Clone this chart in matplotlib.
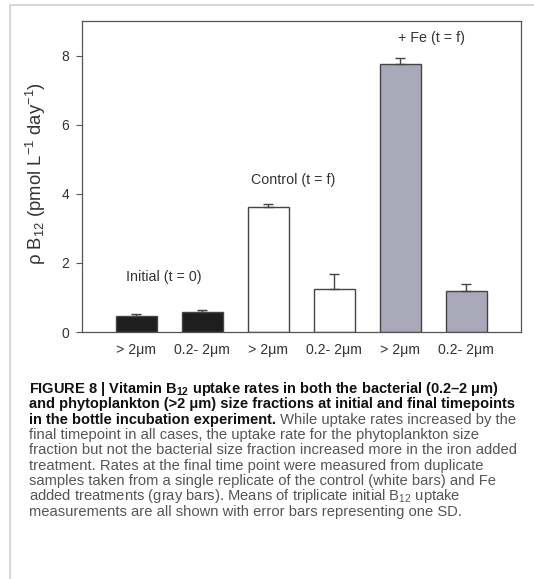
import matplotlib
matplotlib.use("Agg")
import matplotlib.pyplot as plt
from matplotlib.patches import Rectangle
import numpy as np

plt.rcParams['font.family'] = ['Liberation Sans', 'DejaVu Sans']
plt.rcParams['mathtext.fontset'] = 'custom'
plt.rcParams['mathtext.rm'] = 'Liberation Sans'
plt.rcParams['mathtext.it'] = 'Liberation Sans:italic'
plt.rcParams['mathtext.bf'] = 'Liberation Sans:bold'

# data
size_labels = ['> 2μm', '0.2- 2μm', '> 2μm', '0.2- 2μm', '> 2μm', '0.2- 2μm']
uptake = [0.47, 0.59, 3.62, 1.25, 7.75, 1.18]
uptake_sd = [0.04, 0.05, 0.07, 0.42, 0.17, 0.20]
bar_colors = ['#1e1e1e', '#1e1e1e', '#ffffff', '#ffffff', '#a9a9ba', '#a9a9ba']
groups = ['Initial (t = 0)', 'Control (t = f)', '+ Fe (t = f)']
group_pos = [(0.42, 1.59), (2.38, 4.39), (4.47, 8.5)]

fig = plt.figure(figsize=(5.34, 5.79), dpi=100)

# faint frame of the scanned page
fig.patches.append(Rectangle((10 / 534, -0.1), 1.2, 1 - 5 / 579 + 0.1,
                             transform=fig.transFigure, fill=False,
                             edgecolor='#d0d0d0', linewidth=1.2))

ax = fig.add_axes([82 / 534, 247 / 579, 439 / 534, 311 / 579])
x = np.arange(len(uptake))
# only the upper half of each error bar is visible
ax.bar(x, uptake, width=0.62, color=bar_colors, edgecolor='#444444', linewidth=1.0,
       yerr=[np.zeros(len(uptake_sd)), uptake_sd],
       error_kw=dict(ecolor='#444444', elinewidth=1.0, capsize=3.5, capthick=1.0))

for name, (gx, gy) in zip(groups, group_pos):
    ax.text(gx, gy, name, ha='center', va='center', fontsize=10.3, color='#333333')

ax.set_xlim(-0.82, 5.83)
ax.set_ylim(0, 9)
ax.set_yticks([0, 2, 4, 6, 8])
ax.set_xticks(x)
ax.set_xticklabels(size_labels)
ax.tick_params(axis='x', length=0, pad=8, labelsize=10.2, labelcolor='#333333')
ax.tick_params(axis='y', length=4, pad=5, labelsize=10, labelcolor='#333333', color='#555555')
for s in ax.spines.values():
    s.set_color('#555555')
    s.set_linewidth(0.9)
ax.set_ylabel(r'ρ B$_{12}$ (pmol L$^{-1}$ day$^{-1}$)', fontsize=13.3, color='#333333')
ax.yaxis.set_label_coords(-0.078, 0.51)

# caption
x0 = 29 / 534
line_y = [393, 408, 424, 439, 454, 470, 485, 500, 516]
bold_lines = [
    r'FIGURE 8 | Vitamin $\mathbf{B}_{\mathbf{12}}$ uptake rates in both the bacterial (0.2–2 μm)',
    'and phytoplankton (>2 μm) size fractions at initial and final timepoints',
    'in the bottle incubation experiment.',
]
plain_lines = [
    'final timepoint in all cases, the uptake rate for the phytoplankton size',
    'fraction but not the bacterial size fraction increased more in the iron added',
    'treatment. Rates at the final time point were measured from duplicate',
    'samples taken from a single replicate of the control (white bars) and Fe',
    r'added treatments (gray bars). Means of triplicate initial B$_{12}$ uptake',
    'measurements are all shown with error bars representing one SD.',
]
last = None
for yy, t in zip(line_y[:3], bold_lines):
    last = fig.text(x0, 1 - yy / 579, t, fontsize=10.5, fontweight='bold',
                    color='#111111', va='baseline')
# regular part continues right after the bold run on line 3
ax.annotate(' While uptake rates increased by the', xy=(1, 0), xycoords=last,
            fontsize=10.6, color='#555555', va='bottom', annotation_clip=False)
for yy, t in zip(line_y[3:], plain_lines):
    fig.text(x0, 1 - yy / 579, t, fontsize=10.6, color='#555555', va='baseline')

fig.savefig('out.png', dpi=100)
